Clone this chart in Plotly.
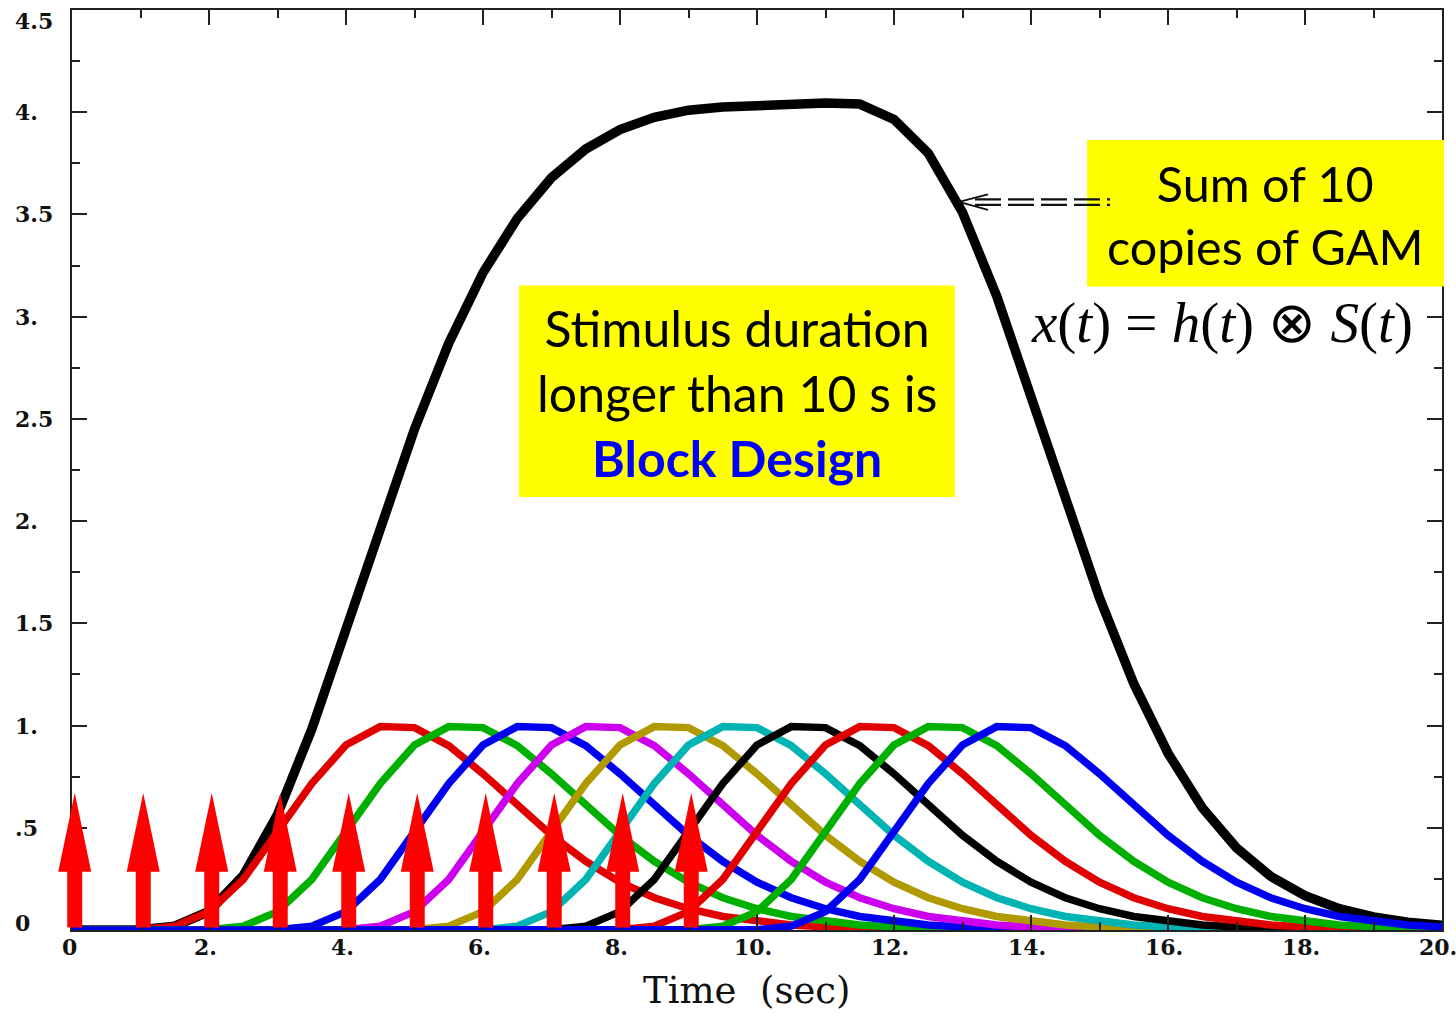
import plotly.graph_objects as go

# ---------------- data ----------------
t_grid = [i * 0.5 for i in range(41)]          # 0 .. 20 s, 0.5 s sampling
# single GAM impulse response h(t), sampled every 0.5 s starting at its onset
gam_response = [0.000, 0.000, 0.001, 0.019, 0.090, 0.247, 0.474, 0.716, 0.905, 0.995,
                0.990, 0.902, 0.764, 0.610, 0.463, 0.336, 0.234, 0.158, 0.104, 0.066,
                0.041, 0.025, 0.015, 0.009, 0.005, 0.003, 0.002, 0.001, 0.001, 0.000,
                0.000, 0.000, 0.000, 0.000, 0.000, 0.000, 0.000, 0.000, 0.000, 0.000,
                0.000]
onsets = [0, 1, 2, 3, 4, 5, 6, 7, 8, 9]
copy_colors = ["#e00000", "#00b000", "#0000f0", "#cc00ee", "#b09a00",
               "#00b4b4", "#000000", "#e00000", "#00b000", "#0000f0"]
# sum of the 10 copies
sum_values = [0.000, 0.000, 0.001, 0.019, 0.091, 0.266, 0.565, 0.982, 1.465, 1.975,
              2.450, 2.870, 3.215, 3.480, 3.680, 3.820, 3.915, 3.975, 4.010, 4.025,
              4.035, 4.042, 4.045, 4.040, 3.965, 3.800, 3.510, 3.100, 2.610, 2.105,
              1.625, 1.205, 0.865, 0.598, 0.402, 0.262, 0.168, 0.104, 0.064, 0.038,
              0.023]
x_tickvals = [0, 2, 4, 6, 8, 10, 12, 14, 16, 18, 20]
x_ticktext = ["0", "2.", "4.", "6.", "8.", "10.", "12.", "14.", "16.", "18.", "20."]
y_tickvals = [0, 0.5, 1, 1.5, 2, 2.5, 3, 3.5, 4, 4.5]
y_ticktext = ["0", ".5", "1.", "1.5", "2.", "2.5", "3.", "3.5", "4.", "4.5"]
stim_height = 0.67

X_RANGE = [0, 20]
Y_RANGE = [0, 4.5]

# ---------------- layout geometry ----------------
W, H = 1456, 1015
ML, MR, MT, MB = 72, 14, 7.5, 84.5
PW, PH = W - ML - MR, H - MT - MB


def pxx(p):
    return (p - ML) / PW


def pxy(p):
    return (H - MB - p) / PH


fig = go.Figure()

# sum curve (drawn first, copies overlay it as in the reference)
fig.add_trace(go.Scatter(x=t_grid, y=sum_values, mode="lines",
                         line=dict(color="#000000", width=9.5),
                         hoverinfo="skip", showlegend=False))

# shifted copies
step = t_grid[1] - t_grid[0]
for onset, col in zip(onsets, copy_colors):
    shift = int(round(onset / step))
    ys = [0.0] * shift + gam_response[: len(t_grid) - shift]
    fig.add_trace(go.Scatter(x=t_grid, y=ys, mode="lines",
                             line=dict(color=col, width=7.5),
                             hoverinfo="skip", showlegend=False))

shapes = []
# stimulus arrows (paper coordinates so they are not clipped at the axis)
xs = X_RANGE[1] - X_RANGE[0]
ys_ = Y_RANGE[1] - Y_RANGE[0]
shaft_hw = 7.5 / PW * xs   # in data units
head_hw = 16.5 / PW * xs
head_base = 0.285
for onset in onsets:
    cx = onset + 0.04

    def P(xd, yd):
        return f"{(xd - X_RANGE[0]) / xs:.5f},{(yd - Y_RANGE[0]) / ys_:.5f}"
    path = ("M" + P(cx - shaft_hw, 0.012) + " L" + P(cx - shaft_hw, head_base) +
            " L" + P(cx - head_hw, head_base) + " L" + P(cx, stim_height) +
            " L" + P(cx + head_hw, head_base) + " L" + P(cx + shaft_hw, head_base) +
            " L" + P(cx + shaft_hw, 0.012) + " Z")
    shapes.append(dict(type="path", path=path, xref="paper", yref="paper",
                       fillcolor="#ff0000", line=dict(width=0), layer="above"))

# yellow boxes
shapes.append(dict(type="rect", xref="paper", yref="paper",
                   x0=pxx(1087), x1=pxx(1444), y0=pxy(285), y1=pxy(138),
                   fillcolor="#ffff00", line=dict(width=0), layer="above"))
shapes.append(dict(type="rect", xref="paper", yref="paper",
                   x0=pxx(519), x1=pxx(955), y0=pxy(496), y1=pxy(284),
                   fillcolor="#ffff00", line=dict(width=0), layer="above"))

# dashed double arrow pointing at the sum curve
for yy in (197.5, 203):
    shapes.append(dict(type="line", xref="paper", yref="paper",
                       x0=pxx(975), x1=pxx(1110), y0=pxy(yy), y1=pxy(yy),
                       line=dict(color="#111111", width=2.4, dash="26px,7px"),
                       layer="above"))
for yy in (192.5, 208):
    shapes.append(dict(type="line", xref="paper", yref="paper",
                       x0=pxx(959), x1=pxx(988), y0=pxy(200), y1=pxy(yy),
                       line=dict(color="#111111", width=2), layer="above"))

annotations = []
sum_font = dict(family="Lato, Open Sans, sans-serif", size=48.5, color="#000000")
stim_font = dict(family="Lato, Open Sans, sans-serif", size=50, color="#000000")
annotations.append(dict(xref="paper", yref="paper", x=pxx(1265), y=pxy(213),
                        text="Sum of 10<br>copies of GAM", showarrow=False,
                        font=sum_font, align="center", xanchor="center", yanchor="middle"))
annotations.append(dict(xref="paper", yref="paper", x=pxx(737), y=pxy(392),
                        text="Stimulus duration<br>longer than 10 s is<br>"
                             "<b><span style='color:#0000ff'>Block Design</span></b>",
                        showarrow=False, font=stim_font, align="center",
                        xanchor="center", yanchor="middle"))
annotations.append(dict(xref="paper", yref="paper", x=pxx(1222), y=pxy(322),
                        text="<i>x</i>(<i>t</i>) = <i>h</i>(<i>t</i>) \u2297 <i>S</i>(<i>t</i>)",
                        showarrow=False,
                        font=dict(family="Liberation Serif, Times New Roman, serif",
                                  size=57, color="#000000"),
                        xanchor="center", yanchor="middle"))
annotations.append(dict(xref="paper", yref="paper", x=pxx(747), y=pxy(991),
                        text="Time\u00a0\u00a0(sec)", showarrow=False,
                        font=dict(family="DejaVu Serif, serif", size=37, color="#111111"),
                        xanchor="center", yanchor="middle"))
tick_font = dict(family="DejaVu Serif, serif", size=22, color="#111111", weight="bold")
# x tick labels
for v, lab in zip(x_tickvals, x_ticktext):
    annotations.append(dict(xref="x", yref="paper", x=v, y=pxy(948),
                            xshift=(-4 if "." in lab else -3),
                            text=lab, showarrow=False, xanchor="center", yanchor="middle",
                            font=tick_font))
# y tick labels (left aligned as in the reference)
for v, lab in zip(y_tickvals, y_ticktext):
    ysh = 0
    if v == Y_RANGE[1]:
        ysh = -11
    elif v == Y_RANGE[0]:
        ysh = 7
    annotations.append(dict(xref="paper", yref="y", x=pxx(13), y=v, yshift=ysh,
                            text=lab, showarrow=False, xanchor="left", yanchor="middle",
                            font=tick_font))

axis_common = dict(showline=True, linecolor="#222222", linewidth=2, mirror="allticks",
                   ticks="inside", tickcolor="#222222", tickwidth=2, ticklen=15,
                   showgrid=False, zeroline=False, showticklabels=False)

fig.update_layout(
    width=W, height=H,
    margin=dict(l=ML, r=MR, t=MT, b=MB, pad=0),
    paper_bgcolor="#ffffff", plot_bgcolor="#ffffff",
    showlegend=False,
    xaxis=dict(range=X_RANGE, tickvals=x_tickvals,
               minor=dict(dtick=1, tick0=0, ticks="inside", ticklen=8, tickwidth=2,
                          tickcolor="#222222"),
               **axis_common),
    yaxis=dict(range=Y_RANGE, tickvals=y_tickvals,
               minor=dict(dtick=0.25, tick0=0, ticks="inside", ticklen=8, tickwidth=2,
                          tickcolor="#222222"),
               **axis_common),
    shapes=shapes,
    annotations=annotations,
)

fig.write_html("out.html")
